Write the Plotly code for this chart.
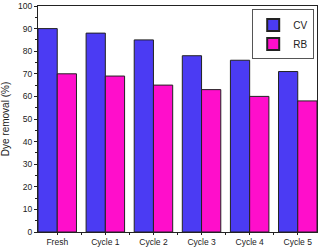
import plotly.graph_objects as go

categories = ["Fresh", "Cycle 1", "Cycle 2", "Cycle 3", "Cycle 4", "Cycle 5"]
cv_values = [90, 88, 85, 78, 76, 71]
rb_values = [70, 69, 65, 63, 60, 58]
y_ticks = [0, 10, 20, 30, 40, 50, 60, 70, 80, 90, 100]

xpos = list(range(len(categories)))

fig = go.Figure()
fig.add_trace(go.Bar(x=xpos, y=cv_values, name="CV",
                     marker=dict(color="#4B3BF3", line=dict(color="#222222", width=1))))
fig.add_trace(go.Bar(x=xpos, y=rb_values, name="RB",
                     marker=dict(color="#FF0ECB", line=dict(color="#222222", width=1))))

fig.update_layout(
    width=320, height=249,
    margin=dict(l=38, r=3, t=6, b=17, autoexpand=False),
    paper_bgcolor="white", plot_bgcolor="white",
    barmode="group", bargap=0.2, bargroupgap=0,
    font=dict(family="Liberation Sans, Arial, sans-serif", size=8, color="#222222"),
    showlegend=True,
    legend=dict(x=0.99, y=0.985, xanchor="right", yanchor="top",
                bordercolor="#555555", borderwidth=1, bgcolor="white",
                font=dict(size=10), tracegroupgap=0, itemwidth=30,
                itemsizing="constant"),
    xaxis=dict(range=[-0.4, 5.4], tickmode="array", tickvals=xpos, ticktext=categories,
               showgrid=False, zeroline=False, showline=True, linecolor="#222222", linewidth=1,
               mirror=True, ticks="outside", ticklen=2, tickcolor="#222222",
               minor=dict(tickmode="array", tickvals=[0.5, 1.5, 2.5, 3.5, 4.5], ticks="outside", ticklen=2, tickcolor="#222222"),
               tickfont=dict(size=8.5)),
    yaxis=dict(range=[0, 100], tickmode="array", tickvals=y_ticks,
               title=dict(text="Dye removal (%)", font=dict(size=10), standoff=6),
               showgrid=False, zeroline=False, showline=True, linecolor="#222222", linewidth=1,
               mirror=True, ticks="outside", ticklen=3, tickcolor="#222222",
               minor=dict(dtick=5, ticks="outside", ticklen=2, tickcolor="#222222"),
               tickfont=dict(size=8.5)),
)

fig.write_html("out.html", config={"displayModeBar": False},
               post_script="document.body.style.margin='0px';document.body.style.overflow='hidden';")
